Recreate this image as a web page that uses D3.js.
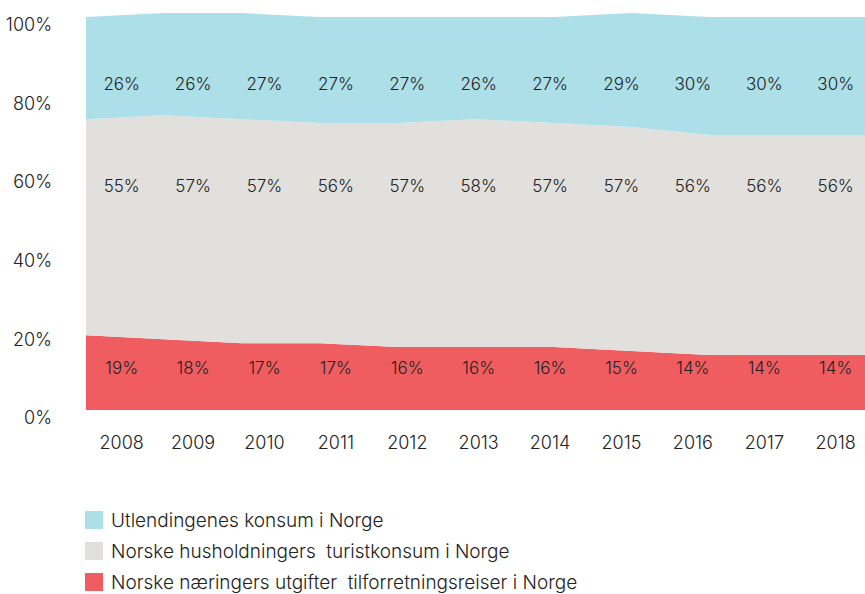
<!DOCTYPE html>
<html><head><meta charset="utf-8">
<script src="https://cdn.jsdelivr.net/npm/d3@7"></script>
<style>body{margin:0;background:#fff}svg{display:block}text{font-family:Inter,"Noto Sans",sans-serif;fill:#222}</style>
</head><body><svg id="c" width="865" height="594"></svg>
<script>
const years = ["2008","2009","2010","2011","2012","2013","2014","2015","2016","2017","2018"];
const naering = [19,18,17,17,16,16,16,15,14,14,14];
const hushold = [55,57,57,56,57,58,57,57,56,56,56];
const utland  = [26,26,27,27,27,26,27,29,30,30,30];
const yTicks = [0,20,40,60,80,100];
const seriesNames = ["Utlendingenes konsum i Norge","Norske husholdningers  turistkonsum i Norge","Norske næringers utgifter  tilforretningsreiser i Norge"];
const colors = ["#ADDFE8","#E1E0DC","#F05D61"];

const svg = d3.select("#c");
const left = 86, right = 865, y0 = 410, y100 = 17;
const y = d3.scaleLinear().domain([0,100]).range([y0,y100]);
const xPt = d3.scalePoint().domain(years).range([left,right]);
const xBand = d3.scaleBand().domain(years).range([left, left + 71.4*11]);

const rows = years.map((yr,i)=>({year:yr, n:naering[i], h:hushold[i], u:utland[i]}));
const stack = d3.stack().keys(["n","h","u"])(rows);
const area = d3.area().x(d=>xPt(d.data.year)).y0(d=>y(d[0])).y1(d=>y(d[1]));
const colorByKey = {n:colors[2], h:colors[1], u:colors[0]};
svg.append("g").selectAll("path").data(stack).join("path")
  .attr("d", area).attr("fill", d=>colorByKey[d.key]);

// y axis labels
const yAxisG = svg.append("g").attr("transform","translate(52,8)")
  .call(d3.axisLeft(y).tickValues(yTicks).tickFormat(d=>d+"%").tickSize(0).tickPadding(0));
yAxisG.select(".domain").remove();
yAxisG.selectAll("text").style("font-size","18px").style("font-family","Inter").attr("fill","#222").attr("font-weight",300);

// x axis labels
const xAxisG = svg.append("g").attr("transform","translate(0,436)")
  .call(d3.axisBottom(xBand).tickSize(0).tickPadding(0));
xAxisG.select(".domain").remove();
xAxisG.selectAll("text").style("font-size","18px").style("font-family","Inter").attr("fill","#222").attr("font-weight",300);

// value labels
const labelLevels = {u:83, h:57, n:10.7};
const lbl = svg.append("g").style("font-size","17px").attr("font-weight",300).attr("text-anchor","middle");
[["u",utland],["h",hushold],["n",naering]].forEach(([k,arr])=>{
  lbl.selectAll(null).data(arr).join("text")
    .attr("x",(d,i)=>xBand(years[i])+xBand.bandwidth()/2)
    .attr("y", y(labelLevels[k]))
    .attr("dy","0.35em")
    .text(d=>d+"%");
});

// legend
const leg = svg.append("g").attr("transform","translate(85,511)");
seriesNames.forEach((name,i)=>{
  const g = leg.append("g").attr("transform",`translate(0,${i*31})`);
  g.append("rect").attr("width",18).attr("height",18).attr("fill",colors[i]);
  g.append("text").attr("x",26).attr("y",9).attr("dy","0.35em").style("font-size","19px").style("white-space","pre").attr("font-weight",300).text(name);
});
</script></body></html>
